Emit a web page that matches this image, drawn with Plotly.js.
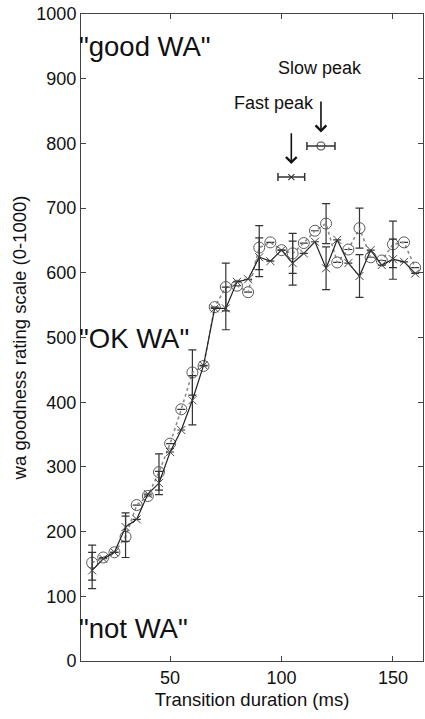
<!DOCTYPE html>
<html>
<head>
<meta charset="utf-8">
<script src="https://cdn.plot.ly/plotly-3.0.1.min.js"></script>
<style>html,body{margin:0;padding:0;background:#fff;}#chart{width:425px;height:719px;}</style>
</head>
<body>
<div id="chart"></div>
<script>
// Transition durations (ms)
var durations = [15,20,25,30,35,40,45,50,55,60,65,70,75,80,85,90,95,100,105,110,115,120,125,130,135,140,145,150,155,160];
// Slow series (circles, dotted line)
var slowRatings = [152,160,168,192,241,255,292,336,389,446,456,547,578,580,570,639,647,635,630,646,665,676,616,636,669,624,619,644,647,608];
var slowErr = [27,null,null,32,null,null,28,null,null,35,null,null,37,null,null,34,null,null,31,null,null,31,null,null,31,null,null,36,null,null];
// Fast series (crosses, solid line)
var fastRatings = [140,158,168,207,219,258,275,323,357,403,457,545,545,586,590,624,618,635,615,630,648,607,651,615,595,635,612,621,617,599];
var fastErr = [28,null,null,22,null,null,18,null,null,38,null,null,33,null,null,30,null,null,34,null,null,33,null,null,33,null,null,31,null,null];
// Peak locations
var fastPeakX = [104.4], fastPeakY = [748], fastPeakErr = [6];
var slowPeakX = [117.7], slowPeakY = [796], slowPeakErr = [6.3];
// Category labels on the rating scale
var scaleLabels = ['"good WA"', '"OK WA"', '"not WA"'];
var scaleLabelY = [950, 498, 50];
var yTicks = [0,100,200,300,400,500,600,700,800,900,1000];
var xTicks = [50,100,150];

var FONT = 'Liberation Sans, Arial, sans-serif';
var traces = [
  {
    x: durations, y: slowRatings, type: 'scatter', mode: 'lines+markers',
    line: {color: '#8a8a8a', width: 1.6, dash: 'dot'},
    marker: {symbol: 'circle-open', size: 11, color: '#5a5a5a', line: {width: 1, color: '#5a5a5a'}},
    error_y: {type: 'data', array: slowErr, visible: true, color: '#333', thickness: 1.2, width: 4},
    showlegend: false, hoverinfo: 'skip'
  },
  {
    x: durations, y: fastRatings, type: 'scatter', mode: 'lines+markers',
    line: {color: '#222', width: 1.2},
    marker: {symbol: 'x-thin-open', size: 8, color: '#444', line: {width: 1, color: '#444'}},
    error_y: {type: 'data', array: fastErr, visible: true, color: '#333', thickness: 1.2, width: 4},
    showlegend: false, hoverinfo: 'skip'
  },
  {
    x: fastPeakX, y: fastPeakY, type: 'scatter', mode: 'markers',
    marker: {symbol: 'x-thin-open', size: 6, color: '#333', line: {width: 1.1, color: '#333'}},
    error_x: {type: 'data', array: fastPeakErr, visible: true, color: '#333', thickness: 1.5, width: 4},
    showlegend: false, hoverinfo: 'skip'
  },
  {
    x: slowPeakX, y: slowPeakY, type: 'scatter', mode: 'markers',
    marker: {symbol: 'circle-open', size: 8, color: '#444', line: {width: 1.1, color: '#444'}},
    error_x: {type: 'data', array: slowPeakErr, visible: true, color: '#333', thickness: 1.5, width: 4},
    showlegend: false, hoverinfo: 'skip'
  }
];

var annotations = [];
for (var i = 0; i < scaleLabels.length; i++) {
  annotations.push({
    xref: 'paper', yref: 'y', x: 0, y: scaleLabelY[i], xanchor: 'left', yanchor: 'middle',
    xshift: -3, borderpad: 0,
    text: scaleLabels[i], showarrow: false, font: {family: FONT, size: 27.5, color: '#111'}
  });
}
annotations.push({xref: 'x', yref: 'y', x: 117.2, y: 917, text: 'Slow peak', showarrow: false,
  font: {family: FONT, size: 18, color: '#111'}});
annotations.push({xref: 'x', yref: 'y', x: 96.5, y: 862, text: 'Fast peak', showarrow: false,
  font: {family: FONT, size: 18, color: '#111'}});
annotations.push({xref: 'x', yref: 'y', axref: 'x', ayref: 'y', x: fastPeakX[0], y: 768, ax: fastPeakX[0], ay: 818,
  text: '', showarrow: true, arrowhead: 4, arrowsize: 1.3, arrowwidth: 1.6, arrowcolor: '#111', standoff: 0});
annotations.push({xref: 'x', yref: 'y', axref: 'x', ayref: 'y', x: slowPeakX[0], y: 817, ax: slowPeakX[0], ay: 867,
  text: '', showarrow: true, arrowhead: 4, arrowsize: 1.3, arrowwidth: 1.6, arrowcolor: '#111', standoff: 0});

var axisCommon = {
  showline: true, linecolor: '#444', linewidth: 1, mirror: 'ticks',
  ticks: 'inside', ticklen: 5, tickcolor: '#444', tickwidth: 1,
  showgrid: false, zeroline: false,
  tickfont: {family: FONT, size: 18, color: '#111'}
};

var layout = {
  width: 425, height: 719,
  margin: {l: 81, r: 2, t: 14, b: 58},
  paper_bgcolor: '#fff', plot_bgcolor: '#fff',
  xaxis: Object.assign({}, axisCommon, {
    range: [10, 163.5], tickmode: 'array', tickvals: xTicks,
    title: {text: 'Transition duration (ms)', font: {family: FONT, size: 18.5, color: '#111'}, standoff: 6}
  }),
  yaxis: Object.assign({}, axisCommon, {
    range: [0, 1000], tickmode: 'array', tickvals: yTicks,
    title: {text: 'wa goodness rating scale (0-1000)', font: {family: FONT, size: 18.5, color: '#111'}, standoff: 4}
  }),
  annotations: annotations,
  font: {family: FONT}
};

Plotly.newPlot('chart', traces, layout, {staticPlot: true, displayModeBar: false});
</script>
</body>
</html>
